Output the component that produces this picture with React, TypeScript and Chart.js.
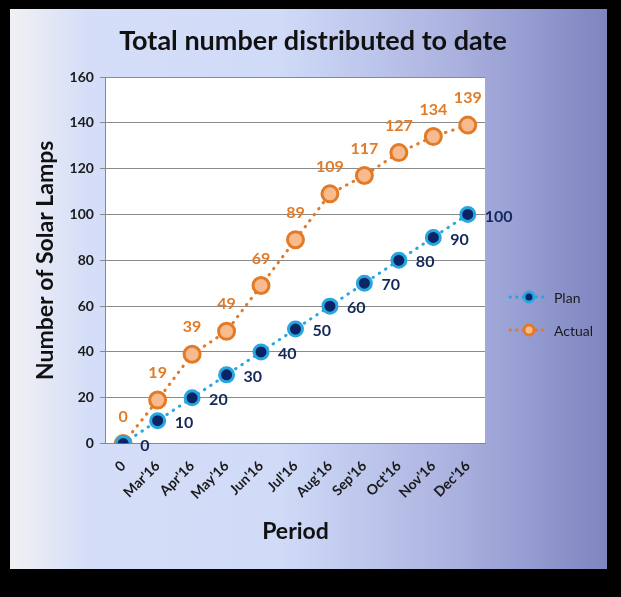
import React, { useEffect, useRef } from "react";
import { Chart, registerables } from "chart.js";

Chart.register(...registerables);

const categories = ["0", "Mar'16", "Apr'16", "May'16", "Jun'16", "Jul'16", "Aug'16", "Sep'16", "Oct'16", "Nov'16", "Dec'16"];
const planValues = [0, 10, 20, 30, 40, 50, 60, 70, 80, 90, 100];
const actualValues = [0, 19, 39, 49, 69, 89, 109, 117, 127, 134, 139];
const yTicks = [0, 20, 40, 60, 80, 100, 120, 140, 160];
const chartTitle = "Total number distributed to date";

const FONT = "Lato, 'Open Sans', sans-serif";
const PLAN_LINE = "#27a6e0";
const PLAN_FILL = "#0b2466";
const ACT_LINE = "#e37a26";
const ACT_FILL = "#f8bb8f";

const bgPlugin = {
  id: "bgGrad",
  beforeDraw(chart: any) {
    const { ctx, width, height } = chart;
    const g = ctx.createLinearGradient(0, 0, width, 0);
    g.addColorStop(0, "#f1f1f4");
    g.addColorStop(0.13, "#d5def8");
    g.addColorStop(0.45, "#d0dbf8");
    g.addColorStop(0.75, "#aab1df");
    g.addColorStop(1, "#7e85c0");
    ctx.save();
    ctx.fillStyle = g;
    ctx.fillRect(0, 0, width, height);
    const a = chart.chartArea;
    ctx.fillStyle = "#ffffff";
    ctx.fillRect(a.left, a.top, a.right - a.left, a.bottom - a.top);
    ctx.fillStyle = "#111";
    ctx.font = `bold 27px ${FONT}`;
    ctx.textAlign = "center";
    ctx.textBaseline = "middle";
    ctx.fillText(chartTitle, 303, 32);
    ctx.restore();
  },
};

const labelPlugin = {
  id: "valLabels",
  afterDatasetsDraw(chart: any) {
    const { ctx } = chart;
    ctx.save();
    ctx.font = `bold 16px ${FONT}`;
    const planMeta = chart.getDatasetMeta(0);
    ctx.fillStyle = "#14285a";
    ctx.textAlign = "left";
    ctx.textBaseline = "middle";
    planMeta.data.forEach((p: any, i: number) => {
      ctx.fillText(String(planValues[i]), p.x + 17, p.y + 2);
    });
    const actMeta = chart.getDatasetMeta(1);
    ctx.fillStyle = ACT_LINE;
    ctx.textAlign = "center";
    actMeta.data.forEach((p: any, i: number) => {
      ctx.fillText(String(actualValues[i]), p.x, p.y - 27);
    });
    ctx.restore();
  },
};

const legendPlugin = {
  id: "customLegend",
  afterDraw(chart: any) {
    const { ctx } = chart;
    const items = [
      { label: "Plan", line: PLAN_LINE, fill: PLAN_FILL, y: 288 },
      { label: "Actual", line: ACT_LINE, fill: ACT_FILL, y: 321 },
    ];
    ctx.save();
    items.forEach((it) => {
      const x0 = 500;
      ctx.strokeStyle = it.line;
      ctx.lineWidth = 3;
      ctx.lineCap = "round";
      ctx.setLineDash([0.5, 6]);
      ctx.beginPath();
      ctx.moveTo(x0, it.y);
      ctx.lineTo(x0 + 36, it.y);
      ctx.stroke();
      ctx.setLineDash([]);
      ctx.beginPath();
      ctx.arc(x0 + 19, it.y, 5, 0, Math.PI * 2);
      ctx.fillStyle = it.fill;
      ctx.fill();
      ctx.lineWidth = 3;
      ctx.stroke();
      ctx.fillStyle = "#1a1a1a";
      ctx.font = `14px ${FONT}`;
      ctx.textAlign = "left";
      ctx.textBaseline = "middle";
      ctx.fillText(it.label, x0 + 44, it.y + 1);
    });
    ctx.restore();
  },
};

export default function App() {
  const ref = useRef<HTMLCanvasElement>(null);
  useEffect(() => {
    if (!ref.current) return;
    const chart = new Chart(ref.current, {
      type: "line",
      data: {
        labels: categories,
        datasets: [
          {
            label: "Plan",
            data: planValues,
            borderColor: PLAN_LINE,
            backgroundColor: PLAN_FILL,
            borderWidth: 3,
            borderDash: [0.5, 7],
            borderCapStyle: "round",
            pointRadius: 7,
            pointBorderWidth: 3,
            pointBorderColor: PLAN_LINE,
            pointBackgroundColor: PLAN_FILL,
            tension: 0,
          },
          {
            label: "Actual",
            data: actualValues,
            borderColor: ACT_LINE,
            backgroundColor: ACT_FILL,
            borderWidth: 3,
            borderDash: [0.5, 7],
            borderCapStyle: "round",
            pointRadius: 8,
            pointBorderWidth: 3,
            pointBorderColor: ACT_LINE,
            pointBackgroundColor: ACT_FILL,
            tension: 0,
          },
        ],
      },
      options: {
        animation: false,
        responsive: false,
        layout: { padding: { left: 22, right: 122, top: 68, bottom: 24 } },
        plugins: {
          legend: { display: false },
          tooltip: { enabled: false },
          title: { display: false },
        },
        scales: {
          x: {
            offset: true,
            grid: { display: false, drawTicks: false },
            border: { display: true, color: "#888", width: 1 },
            ticks: {
              color: "#1a1a1a",
              font: { family: FONT, size: 14, weight: "bold" },
              minRotation: 45,
              maxRotation: 45,
              padding: 14,
            },
            title: {
              display: true,
              text: "Period",
              color: "#111",
              font: { family: FONT, size: 23, weight: "bold" },
              padding: { top: 1, bottom: 0 },
            },
          },
          y: {
            min: 0,
            max: 160,
            afterBuildTicks(axis: any) {
              axis.ticks = yTicks.map((v) => ({ value: v }));
            },
            grid: { color: "#8a8a8a", lineWidth: 1, tickLength: 6, tickColor: "#888" },
            border: { display: true, color: "#888" },
            ticks: {
              color: "#1a1a1a",
              font: { family: FONT, size: 14, weight: "bold" },
              padding: 6,
            },
            title: {
              display: true,
              text: "Number of Solar Lamps",
              color: "#111",
              font: { family: FONT, size: 23, weight: "bold" },
              padding: { top: 0, bottom: 4 },
            },
          },
        },
      },
      plugins: [bgPlugin, labelPlugin, legendPlugin],
    } as any);
    return () => chart.destroy();
  }, []);
  return (
    <div style={{ position: "fixed", left: 0, top: 0, width: 621, height: 597, background: "#000" }}>
      <canvas ref={ref} width={597} height={560} style={{ position: "absolute", left: 10, top: 9, width: 597, height: 560 }} />
    </div>
  );
}
